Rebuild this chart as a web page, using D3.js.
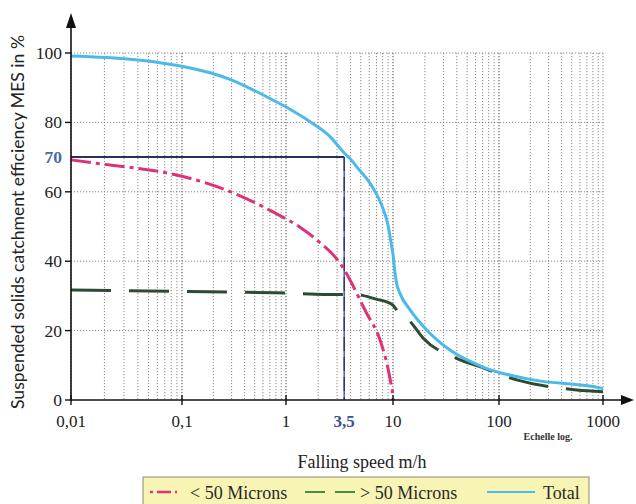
<!DOCTYPE html>
<html><head><meta charset="utf-8">
<script src="https://cdn.jsdelivr.net/npm/d3@7"></script>
<style>html,body{margin:0;padding:0;background:#fff;}svg{display:block;}</style>
</head><body>
<svg id="c" width="636" height="504"></svg>
<script>
// ---- data ----
const xDecades = [0.01, 0.1, 1, 10, 100, 1000];
const xTickValues = [0.01, 0.1, 1, 3.5, 10, 100, 1000];
const xTickLabels = ["0,01", "0,1", "1", "3,5", "10", "100", "1000"];
const yTickValues = [0, 20, 40, 60, 70, 80, 100];
const yTickLabels = ["0", "20", "40", "60", "70", "80", "100"];
const yGridValues = [20, 40, 60, 80, 100];

const totalX = [0.01, 0.036, 0.063, 0.119, 0.186, 0.289, 0.451, 0.70, 1.09, 1.68, 2.58, 3.5, 3.96, 4.58, 6.3, 7.83, 9.04, 9.72, 10.0, 10.29, 10.8, 11.6, 14.5, 20.8, 34.5, 70.6, 212, 935, 1000];
const totalY = [99.1, 98.1, 97.2, 95.7, 94.3, 92.4, 89.8, 86.9, 83.8, 80.2, 75.9, 71.2, 69.6, 67.2, 61.8, 56.2, 50.0, 44.2, 42.0, 38.3, 33.7, 30.8, 26.0, 20.2, 14.4, 9.5, 5.8, 3.5, 3.3];

const fineX = [0.01, 0.0225, 0.0634, 0.217, 0.75, 1.35, 1.95, 3.2, 5.67, 7.57, 9.04, 9.6, 9.98, 10];
const fineY = [69.2, 67.7, 65.8, 61.5, 54.2, 49.8, 46.1, 39.4, 25.0, 17.3, 8.65, 4.5, 1.0, 0];

const coarseX = [0.01, 0.1, 0.3, 0.8, 1.9, 4.71, 7.07, 8.72, 10.0, 10.8, 14.5, 19.3, 39.8, 66, 148, 558, 1000];
const coarseY = [31.7, 31.3, 31.1, 30.9, 30.5, 30.3, 29.0, 28.3, 27.3, 26.0, 22.6, 17.8, 12.0, 9.6, 5.8, 2.9, 2.4];

const refX = 3.5, refY = 70;
const legendItems = ["< 50 Microns", "> 50 Microns", "Total"];

// ---- scales ----
const svg = d3.select("#c");
const x = d3.scaleLog().domain(xDecades).range([71, 182, 286, 393, 499, 603]);
const y = d3.scaleLinear().domain([0, 100]).range([400, 53]);

const C = {total: "#4cb9e8", fine: "#e0307a", coarse: "#2f4a34", ref: "#27305f", refV: "#5566b0"};

// ---- grid ----
const minor = [];
for (let d = 0; d < xDecades.length - 1; d++) {
  for (let k = 1; k <= 10; k++) minor.push(xDecades[d] * k);
}
const gridG = svg.append("g");
gridG.selectAll("line.v").data(minor).join("line")
  .attr("x1", d => x(d)).attr("x2", d => x(d))
  .attr("y1", y(100)).attr("y2", y(0))
  .attr("stroke", "#7a7a7a").attr("stroke-width", 0.9).attr("stroke-dasharray", "1.2,1.8");
gridG.selectAll("line.h").data(yGridValues).join("line")
  .attr("x1", x(0.01)).attr("x2", x(1000))
  .attr("y1", d => y(d)).attr("y2", d => y(d))
  .attr("stroke", "#7a7a7a").attr("stroke-width", 0.9).attr("stroke-dasharray", "1.2,1.8");

// ---- reference lines ----
svg.append("line").attr("x1", x(0.01)).attr("x2", x(refX)).attr("y1", y(refY)).attr("y2", y(refY))
  .attr("stroke", C.ref).attr("stroke-width", 2);
svg.append("line").attr("x1", x(refX)).attr("x2", x(refX)).attr("y1", y(refY)).attr("y2", y(0))
  .attr("stroke", C.refV).attr("stroke-width", 1.6);
svg.append("line").attr("x1", x(refX)).attr("x2", x(refX)).attr("y1", y(refY)).attr("y2", y(0))
  .attr("stroke", "#2a2f55").attr("stroke-width", 1.2).attr("stroke-dasharray", "14,6");

// ---- curves ----
const line = d3.line().x(d => x(d[0])).y(d => y(d[1])).curve(d3.curveMonotoneX);
const zip = (a, b) => a.map((v, i) => [v, b[i]]);

svg.append("path").attr("d", line(zip(coarseX, coarseY)))
  .attr("fill", "none").attr("stroke", C.coarse).attr("stroke-width", 3).attr("stroke-dasharray", "40,18");
svg.append("path").attr("d", line(zip(fineX, fineY)))
  .attr("fill", "none").attr("stroke", C.fine).attr("stroke-width", 3).attr("stroke-dasharray", "20,5,4,5");
svg.append("path").attr("d", line(zip(totalX, totalY)))
  .attr("fill", "none").attr("stroke", C.total).attr("stroke-width", 3);

// ---- axes ----
const ax = svg.append("g").attr("stroke", "#111").attr("fill", "#111");
ax.append("line").attr("x1", x(0.01)).attr("x2", x(0.01)).attr("y1", y(0) + 1).attr("y2", 26).attr("stroke-width", 1.6);
ax.append("path").attr("d", `M${x(0.01)},13 L${x(0.01) - 5},28 L${x(0.01) + 5},28 Z`).attr("stroke", "none");
ax.append("line").attr("x1", x(0.01) - 1).attr("x2", 624).attr("y1", y(0)).attr("y2", y(0)).attr("stroke-width", 1.6);
ax.append("path").attr("d", `M634,${y(0)} L621,${y(0) - 5} L621,${y(0) + 5} Z`).attr("stroke", "none");

ax.selectAll("line.xt").data(xDecades).join("line")
  .attr("x1", d => x(d)).attr("x2", d => x(d)).attr("y1", y(0) - 5).attr("y2", y(0) + 5).attr("stroke-width", 1.4);
ax.selectAll("line.yt").data(yGridValues.concat([0])).join("line")
  .attr("x1", x(0.01) - 6).attr("x2", x(0.01)).attr("y1", d => y(d)).attr("y2", d => y(d)).attr("stroke-width", 1.4);

const serif = "'Liberation Serif','DejaVu Serif',serif";
svg.selectAll("text.xl").data(xTickValues).join("text")
  .attr("x", d => x(d)).attr("y", 427).attr("text-anchor", "middle")
  .attr("font-family", serif).attr("font-size", 17)
  .attr("fill", (d, i) => xTickLabels[i] === "3,5" ? "#3b4f98" : "#222")
  .attr("font-weight", (d, i) => xTickLabels[i] === "3,5" ? "bold" : "normal")
  .text((d, i) => xTickLabels[i]);

svg.selectAll("text.yl").data(yTickValues).join("text")
  .attr("x", 62).attr("y", d => y(d) + 6).attr("text-anchor", "end")
  .attr("font-family", serif).attr("font-size", 17.5)
  .attr("fill", (d, i) => yTickLabels[i] === "70" ? "#4a6aa8" : "#222")
  .attr("font-weight", (d, i) => yTickLabels[i] === "70" ? "bold" : "normal")
  .text((d, i) => yTickLabels[i]);

svg.append("text").attr("x", 548).attr("y", 440).attr("text-anchor", "middle")
  .attr("font-family", serif).attr("font-size", 10).attr("font-weight", "bold").attr("fill", "#333")
  .text("Echelle log.");
svg.append("text").attr("x", 362).attr("y", 468).attr("text-anchor", "middle")
  .attr("font-family", serif).attr("font-size", 18).attr("fill", "#222")
  .text("Falling speed m/h");
svg.append("text").attr("transform", "translate(24,222) rotate(-90)").attr("text-anchor", "middle")
  .attr("font-family", "Lato,'Open Sans',sans-serif").attr("font-size", 16.5).attr("fill", "#222")
  .attr("textLength", 374).attr("lengthAdjust", "spacingAndGlyphs")
  .text("Suspended solids catchment efficiency MES in %");

// ---- legend ----
const lg = svg.append("g");
lg.append("rect").attr("x", 143).attr("y", 477).attr("width", 446).attr("height", 40)
  .attr("fill", "#f7f4b4").attr("stroke", "#8c8a6e").attr("stroke-width", 1);
const ly = 492;
lg.append("line").attr("x1", 150).attr("x2", 177).attr("y1", ly).attr("y2", ly)
  .attr("stroke", C.fine).attr("stroke-width", 2.5).attr("stroke-dasharray", "3,4,14,4");
lg.append("line").attr("x1", 305).attr("x2", 355).attr("y1", ly).attr("y2", ly)
  .attr("stroke", "#4e8a4a").attr("stroke-width", 2).attr("stroke-dasharray", "20,10");
lg.append("line").attr("x1", 487).attr("x2", 535).attr("y1", ly).attr("y2", ly)
  .attr("stroke", C.total).attr("stroke-width", 2);
const lxs = [190, 360, 543];
lg.selectAll("text").data(legendItems).join("text")
  .attr("x", (d, i) => lxs[i]).attr("y", 499)
  .attr("font-family", serif).attr("font-size", 18).attr("fill", "#2a2a2a")
  .text(d => d);
</script>
</body></html>
